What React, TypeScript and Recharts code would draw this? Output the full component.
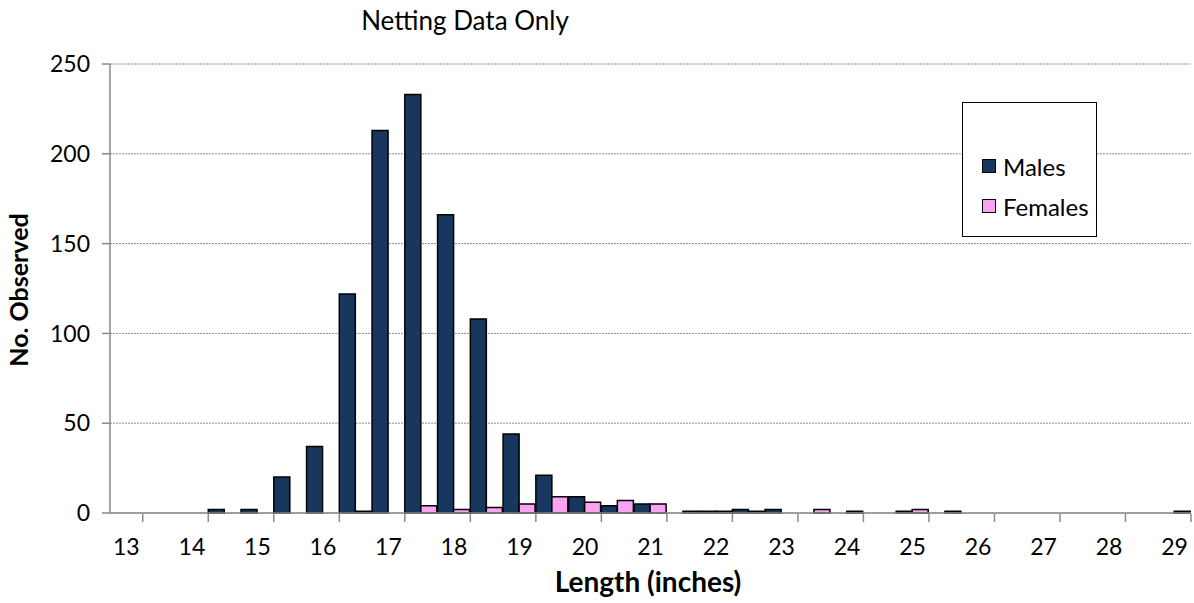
import React from 'react'
import { BarChart, Bar, XAxis, YAxis, CartesianGrid } from 'recharts'

// length classes, half-inch steps
const lengths = [
  13, 13.5, 14, 14.5, 15, 15.5, 16, 16.5, 17, 17.5, 18, 18.5, 19, 19.5, 20, 20.5,
  21, 21.5, 22, 22.5, 23, 23.5, 24, 24.5, 25, 25.5, 26, 26.5, 27, 27.5, 28, 28.5, 29,
]
const males = [
  0, 0, 0, 2, 2, 20, 37, 122, 213, 233, 166, 108, 44, 21, 9, 4,
  5, 0, 1, 2, 2, 0, 0, 0, 1, 0, 0, 0, 0, 0, 0, 0, 0,
]
const females = [
  0, 0, 0, 0, 0, 0, 0, 1, 0, 4, 2, 3, 5, 9, 6, 7,
  5, 1, 1, 1, 0, 2, 1, 0, 2, 1, 0, 0, 0, 0, 0, 0, 1,
]
const xLabels = [13, 14, 15, 16, 17, 18, 19, 20, 21, 22, 23, 24, 25, 26, 27, 28, 29]
const yTicks = [0, 50, 100, 150, 200, 250]

const data = lengths.map((len, i) => ({ len, Males: males[i], Females: females[i] }))
// tick marks sit between the classes
const edges = [...lengths.map((l) => l - 0.25), lengths[lengths.length - 1] + 0.25]

const font = 'Lato, "Open Sans", sans-serif'
const axisGray = '#8a8a8a'
const maleColor = '#17375E'
const femaleColor = '#F9A3F2'

export default function App() {
  return (
    <div style={{ position: 'absolute', left: 0, top: 0, width: 1194, height: 603, background: '#fff', fontFamily: font }}>
      <BarChart
        width={1194}
        height={603}
        data={data}
        margin={{ top: 64, right: 3, bottom: 88, left: 0 }}
        barCategoryGap={0}
        barGap={0}
      >
        <CartesianGrid vertical={false} stroke="#8c8c8c" strokeDasharray="2 1" />
        {/* both x axes are 1px tall so they share (almost) the same baseline */}
        <XAxis
          xAxisId="edges"
          type="number"
          dataKey="len"
          domain={[12.75, 29.25]}
          ticks={edges}
          allowDataOverflow
          tick={() => <g />}
          tickSize={8}
          height={1}
          axisLine={false}
          tickLine={{ stroke: axisGray, strokeWidth: 1.5 }}
        />
        <XAxis
          xAxisId="cat"
          dataKey="len"
          ticks={xLabels}
          interval={0}
          tickSize={0}
          tickMargin={26}
          height={1}
          tickLine={false}
          axisLine={{ stroke: axisGray, strokeWidth: 1.5 }}
          tick={{ fill: '#000', fontSize: 23, fontFamily: font }}
        />
        <YAxis
          domain={[0, 250]}
          ticks={yTicks}
          width={110}
          tickSize={8}
          tickMargin={12}
          axisLine={{ stroke: axisGray, strokeWidth: 1.5 }}
          tickLine={{ stroke: axisGray, strokeWidth: 1.5 }}
          tick={{ fill: '#000', fontSize: 23, fontFamily: font }}
        />
        <Bar xAxisId="cat" dataKey="Males" fill={maleColor} stroke="#000" strokeWidth={1.5} isAnimationActive={false} />
        <Bar xAxisId="cat" dataKey="Females" fill={femaleColor} stroke="#000" strokeWidth={1.5} isAnimationActive={false} />
      </BarChart>

      {/* title */}
      <div style={{ position: 'absolute', left: 265, top: 4, width: 400, textAlign: 'center', fontSize: 26, lineHeight: '32px', color: '#000' }}>
        Netting Data Only
      </div>

      {/* axis titles */}
      <div style={{ position: 'absolute', left: 448, top: 565, width: 400, textAlign: 'center', fontSize: 28, fontWeight: 700, lineHeight: '32px', color: '#000' }}>
        Length (inches)
      </div>
      <div
        style={{
          position: 'absolute', left: 18 - 150, top: 290 - 16, width: 300, height: 32, textAlign: 'center',
          fontSize: 25, fontWeight: 700, lineHeight: '32px', color: '#000', transform: 'rotate(-90deg)',
        }}
      >
        No. Observed
      </div>

      {/* legend */}
      <div style={{ position: 'absolute', left: 962, top: 102, width: 135, height: 135, border: '1.5px solid #000', boxSizing: 'border-box', background: '#fff' }}>
        {[
          { name: 'Males', color: maleColor, y: 63 },
          { name: 'Females', color: femaleColor, y: 103 },
        ].map((e) => (
          <div key={e.name} style={{ position: 'absolute', left: 19, top: e.y - 16, height: 32, display: 'flex', alignItems: 'center', fontSize: 24, color: '#000' }}>
            <span style={{ width: 12, height: 12, background: e.color, border: '1.5px solid #000', marginRight: 7, display: 'inline-block' }} />
            {e.name}
          </div>
        ))}
      </div>
    </div>
  )
}
